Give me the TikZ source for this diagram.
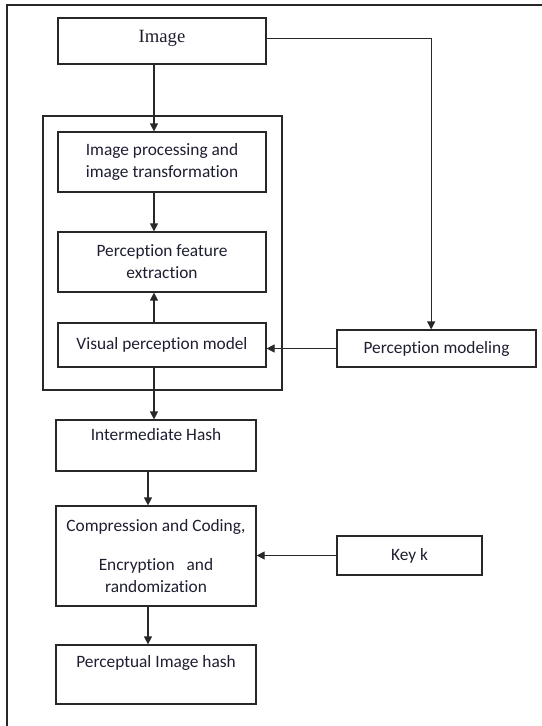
\documentclass[tikz,border=0pt]{standalone}
\usepackage{fontspec}
\setmainfont{Carlito}[Ligatures=NoCommon]
\newfontfamily\imgfont{Liberation Serif}
\usetikzlibrary{arrows.meta}
\definecolor{phline}{RGB}{40, 40, 40}
\definecolor{phtext}{RGB}{30, 30, 50}

\tikzset{
    box/.style={draw=phline, line width=0.9pt, minimum width=156pt, inner sep=0pt,
        align=center, text=phtext, font=\fontsize{13}{16.5}\selectfont},
    flow/.style={draw=phline, line width=0.9pt, -{Triangle[length=6pt, width=6pt]}}
}

\begin{document}
\begin{tikzpicture}[x=0.75pt, y=-0.75pt]
\useasboundingbox (0,0) rectangle (542,726);

% === Marco exterior y bloque del modelo ===
\draw[phline, line width=0.9pt] (7,730) -- (7,5) -- (546,5);
\draw[phline, line width=0.9pt] (43,116) rectangle (282,390);

% === Cadena principal ===
\node[box, minimum height=34.5pt, font=\imgfont\fontsize{14}{16}\selectfont] (img) at (162,41)
    {\raisebox{-1pt}[0pt][0pt]{Image}};
\node[box, minimum height=45pt] (proc) at (162,162) {Image processing and\\image transformation};
\node[box, minimum height=45pt] (feat) at (162,262) {Perception feature\\extraction};
\node[box, minimum height=33pt] (vis) at (162,345) {\raisebox{2pt}{Visual perception model}};
\node[box, minimum width=150pt, minimum height=38.25pt] (inter) at (156,445.5)
    {\raisebox{4pt}[0pt][0pt]{Intermediate Hash}};
\node[box, minimum width=150pt, minimum height=75pt] (comp) at (156,556)
    {Compression and Coding,\\[12.5pt]Encryption\hspace{9pt}and\\randomization};
\node[box, minimum width=150pt, minimum height=44.25pt] (hash) at (156,674.5)
    {\raisebox{5.5pt}[0pt][0pt]{Perceptual Image hash}};

% === Ramas laterales ===
\node[box, minimum width=149.25pt, minimum height=27.75pt] (pm) at (436.5,348.5) {Perception modeling};
\node[box, minimum width=108.75pt, minimum height=29.25pt] (key) at (409.5,555.5) {Key k};

% === Flechas ===
\draw[flow] ([xshift=-6pt]img.south) -- ([xshift=-6pt]proc.north);
\draw[flow] ([xshift=-6pt]proc.south) -- ([xshift=-6pt]feat.north);
\draw[flow] ([xshift=-6pt]vis.north) -- ([xshift=-6pt]feat.south);
\draw[flow] ([xshift=-6pt]vis.south) -- ([xshift=-6pt]vis.south |- inter.north);
\draw[flow] ([xshift=-6pt]inter.south) -- ([xshift=-6pt]comp.north);
\draw[flow] ([xshift=-6pt]comp.south) -- ([xshift=-6pt]hash.north);
\draw[flow] ([yshift=2pt]img.east) -| ([xshift=-4pt]pm.north);
\draw[flow] (pm.west) -- (pm.west -| vis.east);
\draw[flow] (key.west) -- (key.west -| comp.east);

\end{tikzpicture}
\end{document}
